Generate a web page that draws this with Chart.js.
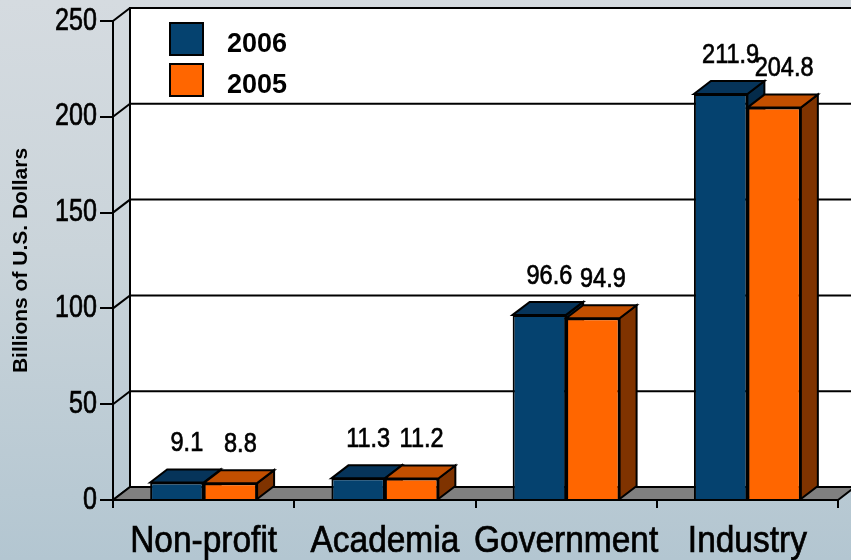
<!DOCTYPE html>
<html>
<head>
<meta charset="utf-8">
<script src="https://cdn.jsdelivr.net/npm/chart.js@4.4.0/dist/chart.umd.min.js"></script>
<style>
  html, body { margin: 0; padding: 0; }
  body { width: 851px; height: 560px; overflow: hidden;
         background: linear-gradient(180deg, #d5dbe0 0%, #cad4da 45%, #b3c6d1 100%); }
</style>
</head>
<body>
<canvas id="chart" width="851" height="560"></canvas>
<script>
const categories = ['Non-profit', 'Academia', 'Government', 'Industry'];
const values2006 = [9.1, 11.3, 96.6, 211.9];
const values2005 = [8.8, 11.2, 94.9, 204.8];
const seriesLabels = ['2006', '2005'];
const yTicks = [0, 50, 100, 150, 200, 250];

const SANS = '"Liberation Sans", Arial, sans-serif';
const DX = 17, DY = -13; // depth of the 3d box

// face colours: front, top, side
const faces = [
    { front: '#05426f', top: '#06345a', side: '#042b4a' },
    { front: '#ff6600', top: '#c24f00', side: '#7f3300' }
];

function poly(ctx, pts, fill) {
    ctx.beginPath();
    ctx.moveTo(pts[0][0], pts[0][1]);
    for (let i = 1; i < pts.length; i++) ctx.lineTo(pts[i][0], pts[i][1]);
    ctx.closePath();
    if (fill) { ctx.fillStyle = fill; ctx.fill(); }
    ctx.stroke();
}

// no narrow font installed, so squeeze Liberation Sans horizontally
function narrowText(ctx, text, x, y, size, squeeze, align, baseline) {
    ctx.save();
    ctx.translate(x, y);
    ctx.scale(squeeze, 1);
    ctx.font = size + 'px ' + SANS;
    ctx.textAlign = align;
    ctx.textBaseline = baseline;
    ctx.fillStyle = '#000';
    ctx.strokeStyle = '#000';
    ctx.lineWidth = 0.7;
    ctx.fillText(text, 0, 0);
    ctx.strokeText(text, 0, 0);
    ctx.restore();
}

const threeD = {
    id: 'threeD',
    beforeDatasetsDraw(chart) {
        const ctx = chart.ctx;
        const a = chart.chartArea;
        const y = chart.scales.y;
        ctx.save();
        ctx.strokeStyle = '#000';
        ctx.lineWidth = 2;

        // back wall
        ctx.fillStyle = '#fff';
        ctx.fillRect(a.left + DX, a.top + DY, chart.width, a.bottom - a.top);
        ctx.beginPath();
        ctx.moveTo(a.left + DX, a.bottom + DY);
        ctx.lineTo(a.left + DX, a.top + DY);
        ctx.lineTo(chart.width + 5, a.top + DY);
        ctx.stroke();

        // grid lines on the wall plus the little diagonals to the front axis
        yTicks.forEach(v => {
            const py = y.getPixelForValue(v);
            ctx.beginPath();
            ctx.moveTo(a.left, py);
            ctx.lineTo(a.left + DX, py + DY);
            if (v > 0) ctx.lineTo(chart.width + 5, py + DY);
            ctx.stroke();
        });

        // floor
        poly(ctx, [[a.left, a.bottom], [a.left + DX, a.bottom + DY],
                   [a.right + DX, a.bottom + DY], [a.right, a.bottom]], '#808080');

        // top and side faces, drawn before the library paints the fronts
        for (let i = 0; i < categories.length; i++) {
            chart.data.datasets.forEach((ds, d) => {
                const el = chart.getDatasetMeta(d).data[i];
                const p = el.getProps(['x', 'y', 'base', 'width'], true);
                const l = p.x - p.width / 2, r = p.x + p.width / 2;
                poly(ctx, [[r, p.y], [r + DX, p.y + DY], [r + DX, p.base + DY], [r, p.base]], faces[d].side);
                poly(ctx, [[l, p.y], [l + DX, p.y + DY], [r + DX, p.y + DY], [r, p.y]], faces[d].top);
            });
        }
        ctx.restore();
    },
    afterDatasetsDraw(chart) {
        const ctx = chart.ctx;
        const a = chart.chartArea;

        // value labels
        chart.data.datasets.forEach((ds, d) => {
            chart.getDatasetMeta(d).data.forEach((el, i) => {
                narrowText(ctx, ds.data[i].toFixed(1), el.x + 10, el.y - 39, 28, 0.84, 'center', 'middle');
            });
        });

        // axis labels
        const xs = chart.scales.x, ys = chart.scales.y;
        xs.ticks.forEach((t, i) => {
            narrowText(ctx, xs.getLabelForValue(t.value), xs.getPixelForTick(i), a.bottom + 52, 36, 0.93, 'center', 'alphabetic');
        });
        ys.ticks.forEach((t, i) => {
            narrowText(ctx, String(t.value), a.left - 16, ys.getPixelForTick(i), 31, 0.81, 'right', 'middle');
        });

        // legend
        ctx.save();
        ctx.textAlign = 'left';
        ctx.textBaseline = 'middle';
        ctx.font = 'bold 27px ' + SANS;
        ctx.strokeStyle = '#000';
        ctx.lineWidth = 2;
        chart.data.datasets.forEach((ds, d) => {
            const top = 23 + d * 41;
            ctx.fillStyle = ds.backgroundColor;
            ctx.fillRect(170, top, 33, 32);
            ctx.strokeRect(170, top, 33, 32);
            ctx.fillStyle = '#000';
            ctx.fillText(ds.label, 227, top + 22);
        });
        ctx.restore();
    }
};

new Chart(document.getElementById('chart'), {
    type: 'bar',
    data: {
        labels: categories,
        datasets: [
            { label: seriesLabels[0], data: values2006, backgroundColor: faces[0].front },
            { label: seriesLabels[1], data: values2005, backgroundColor: faces[1].front }
        ]
    },
    options: {
        responsive: false,
        animation: false,
        layout: { padding: { top: 21, right: 13, left: 0, bottom: 0 } },
        datasets: {
            bar: {
                borderColor: '#000',
                borderWidth: 2,
                categoryPercentage: 0.59,
                barPercentage: 1.0
            }
        },
        plugins: {
            legend: { display: false },
            tooltip: { enabled: false }
        },
        scales: {
            x: {
                afterFit: s => { s.height = 60; },
                border: { display: true, color: '#000', width: 2 },
                grid: { drawOnChartArea: false, color: '#000', lineWidth: 2, tickLength: 8 },
                // labels are painted squeezed by the plugin
                ticks: { color: 'rgba(0,0,0,0)', maxRotation: 0, autoSkip: false, font: { family: SANS, size: 20 } }
            },
            y: {
                min: 0,
                max: 250,
                afterFit: s => { s.width = 113; },
                afterBuildTicks: s => { s.ticks = yTicks.map(v => ({ value: v })); },
                border: { display: true, color: '#000', width: 2 },
                grid: { drawOnChartArea: false, color: '#000', lineWidth: 2, tickLength: 13 },
                ticks: { color: 'rgba(0,0,0,0)', padding: 3, font: { family: SANS, size: 20 } },
                title: {
                    display: true,
                    text: 'Billions of U.S. Dollars',
                    color: '#000',
                    padding: { top: 9, bottom: 0 },
                    font: { family: SANS, weight: 'bold', size: 21 }
                }
            }
        }
    },
    plugins: [threeD]
});
</script>
</body>
</html>
